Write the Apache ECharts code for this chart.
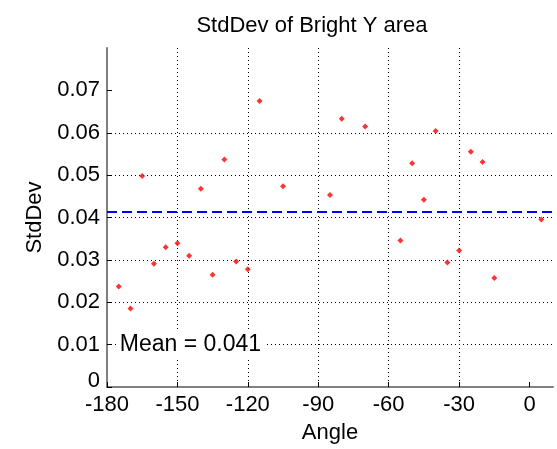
<!DOCTYPE html>
<html>
<head>
<meta charset="utf-8">
<script src="https://cdn.jsdelivr.net/npm/echarts@6/dist/echarts.min.js"></script>
<style>
  html, body { margin: 0; padding: 0; background: #fff; }
  #chart { width: 557px; height: 449px; }
</style>
</head>
<body>
<div id="chart"></div>
<script>
// Measured standard deviation of the bright Y area per rotation angle
const angles = [-175, -170, -165, -160, -155, -150, -145, -140, -135, -130, -125, -120, -115, -105,
                -85, -80, -70, -55, -50, -45, -40, -35, -30, -25, -20, -15, 5];
const stdDevs = [0.0237, 0.0185, 0.0498, 0.0291, 0.0330, 0.0339, 0.0310, 0.0468, 0.0265, 0.0537, 0.0296, 0.0278, 0.0675, 0.0474,
                 0.0453, 0.0633, 0.0615, 0.0346, 0.0528, 0.0442, 0.0604, 0.0294, 0.0322, 0.0555, 0.0531, 0.0257, 0.0395];
const xTicks = [-180, -150, -120, -90, -60, -30, 0];
const yTicks = [0, 0.01, 0.02, 0.03, 0.04, 0.05, 0.06, 0.07];

const xRange = [-180, 10];
const yRange = [0, 0.08];

const meanValue = stdDevs.reduce((s, v) => s + v, 0) / stdDevs.length;
const FONT = '"Liberation Sans", Arial, Helvetica, sans-serif';

const chart = echarts.init(document.getElementById('chart'), null, { renderer: 'canvas' });

chart.setOption({
  animation: false,
  backgroundColor: '#ffffff',
  textStyle: { fontFamily: FONT, color: '#000' },
  title: {
    text: 'StdDev of Bright Y area',
    left: 307,
    textAlign: 'center',
    top: 10,
    textStyle: { fontFamily: FONT, fontSize: 22, fontWeight: 'normal', color: '#000' }
  },
  grid: { left: 107, right: 4, top: 48, bottom: 62, containLabel: false },
  xAxis: {
    type: 'value',
    min: xRange[0],
    max: xRange[1],
    interval: 30,
    name: 'Angle',
    nameLocation: 'middle',
    nameGap: 35,
    nameTextStyle: { fontFamily: FONT, fontSize: 22, color: '#000' },
    axisLine: { show: true, onZero: false, lineStyle: { color: '#808080', width: 2 } },
    axisTick: { show: true, inside: true, length: 5, customValues: xTicks, lineStyle: { color: '#000', width: 1 } },
    axisLabel: {
      customValues: xTicks,
      margin: 7,
      fontFamily: FONT, fontSize: 22, color: '#000',
      formatter: v => String(v)
    },
    splitLine: { show: true, showMinLine: false, showMaxLine: false, lineStyle: { color: '#000', width: 1, type: [1, 3] } }
  },
  yAxis: {
    type: 'value',
    min: yRange[0],
    max: yRange[1],
    interval: 0.01,
    name: 'StdDev',
    nameLocation: 'middle',
    nameGap: 60,
    nameTextStyle: { fontFamily: FONT, fontSize: 22, color: '#000' },
    axisLine: { show: true, onZero: false, lineStyle: { color: '#808080', width: 2 } },
    axisTick: { show: true, inside: true, length: 5, customValues: yTicks, lineStyle: { color: '#000', width: 1 } },
    axisLabel: {
      customValues: yTicks,
      margin: 7,
      fontFamily: FONT, fontSize: 22, color: '#000',
      formatter: v => (Math.abs(v) < 1e-9 ? '{z|0}' : v.toFixed(2)),
      rich: { z: { fontFamily: FONT, fontSize: 22, color: '#000', padding: [0, 0, 12, 0] } }
    },
    splitLine: { show: true, showMinLine: false, showMaxLine: false, lineStyle: { color: '#000', width: 1, type: [1, 3] } }
  },
  series: [
    {
      name: 'mean',
      type: 'line',
      data: [[xRange[0], meanValue], [xRange[1], meanValue]],
      symbol: 'none',
      lineStyle: { color: '#0000ff', width: 2, type: [10, 5] },
      silent: true,
      z: 3
    },
    {
      name: 'stddev',
      type: 'scatter',
      data: angles.map((a, i) => [a, stdDevs[i]]),
      symbol: 'diamond',
      symbolSize: 6,
      itemStyle: { color: '#ff0000' },
      z: 4
    },
    {
      name: 'meanLabel',
      type: 'scatter',
      data: [[-175, 0.01]],
      symbolSize: 0,
      silent: true,
      itemStyle: { opacity: 1 },
      label: {
        show: true,
        position: 'right',
        distance: 0,
        formatter: 'Mean = ' + meanValue.toFixed(3),
        fontFamily: FONT,
        fontSize: 23,
        color: '#000000',
        opacity: 1,
        backgroundColor: '#ffffff',
        padding: [2, 3, 2, 1]
      },
      z: 5
    }
  ]
});
</script>
</body>
</html>
